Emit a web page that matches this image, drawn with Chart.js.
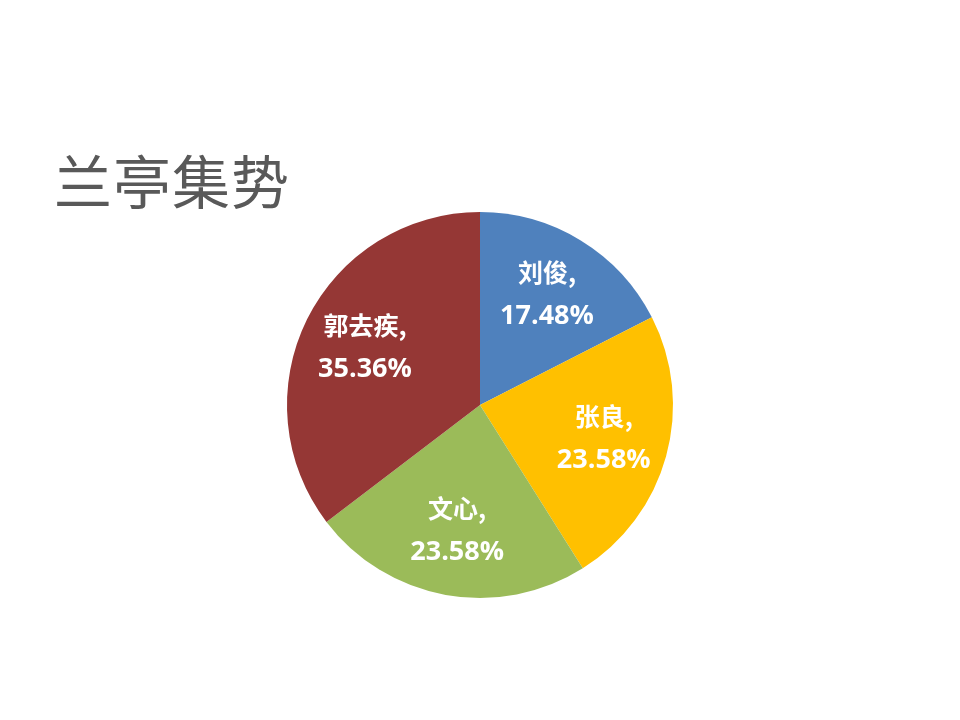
<!DOCTYPE html>
<html>
<head>
<meta charset="utf-8">
<script src="https://cdn.jsdelivr.net/npm/chart.js@4"></script>
<style>
  html, body { margin: 0; padding: 0; background: #fff; }
  #wrap { position: relative; width: 960px; height: 720px; }
  #title {
    position: absolute; left: 54px; top: 137px;
    font-family: "Noto Sans CJK SC", sans-serif; font-weight: 400;
    font-size: 58px; color: #595959; letter-spacing: 1px;
  }
  canvas { position: absolute; left: 0; top: 0; }
</style>
</head>
<body>
<div id="wrap">
  <div id="title">兰亭集势</div>
  <canvas id="myChart" width="960" height="720"></canvas>
</div>
<script>
const names = ['刘俊', '张良', '文心', '郭去疾'];
const shares = [17.48, 23.58, 23.58, 35.36];
const sliceColors = ['#4F81BD', '#FFC000', '#9BBB59', '#953735'];

const sliceLabels = {
  id: 'sliceLabels',
  afterDatasetsDraw(chart) {
    const ctx = chart.ctx;
    const meta = chart.getDatasetMeta(0);
    ctx.save();
    ctx.fillStyle = '#fff';
    ctx.textAlign = 'center';
    ctx.textBaseline = 'middle';
    meta.data.forEach((arc, i) => {
      const { x, y, startAngle, endAngle, outerRadius } = arc.getProps(
        ['x', 'y', 'startAngle', 'endAngle', 'outerRadius'], true);
      const mid = (startAngle + endAngle) / 2;
      const r = outerRadius * 0.665;
      const cx = x + Math.cos(mid) * r;
      const cy = y + Math.sin(mid) * r;
      ctx.font = 'bold 25px "Noto Sans CJK SC", sans-serif';
      ctx.fillText(names[i] + ',', cx, cy - 23);
      ctx.font = 'bold 27px "Open Sans", sans-serif';
      ctx.fillText(shares[i].toFixed(2) + '%', cx, cy + 21);
    });
    ctx.restore();
  }
};

new Chart(document.getElementById('myChart'), {
  type: 'pie',
  data: {
    labels: names,
    datasets: [{
      data: shares,
      backgroundColor: sliceColors,
      borderWidth: 0,
    }],
  },
  options: {
    responsive: false,
    animation: false,
    layout: { padding: { top: 212, bottom: 122, left: 0, right: 0 } },
    plugins: {
      legend: { display: false },
      tooltip: { enabled: false },
    },
  },
  plugins: [sliceLabels],
});
</script>
</body>
</html>
